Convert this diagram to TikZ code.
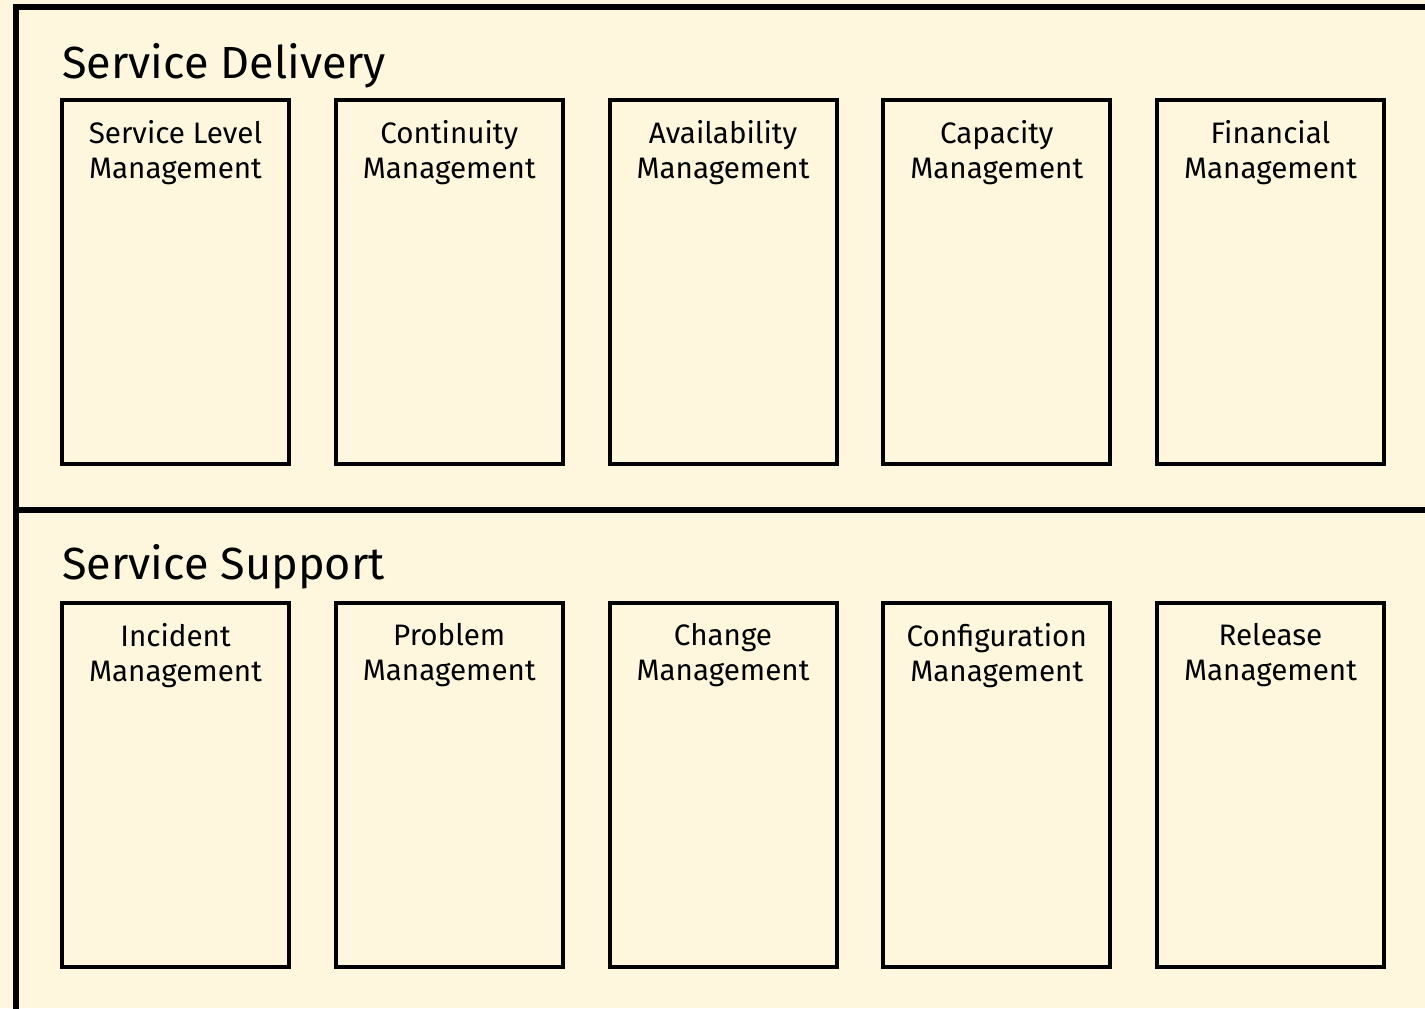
\documentclass[tikz,border=0pt]{standalone}
\usepackage{fontspec}
\setmainfont{Fira Sans}
\usetikzlibrary{positioning}
\definecolor{cream}{RGB}{254,247,222}

\begin{document}
\begin{tikzpicture}[x=0.5pt,y=-0.5pt,
    arealine/.style={line width=3pt},
    areatitle/.style={font=\fontsize{22.5}{26}\selectfont,anchor=base west,inner sep=0pt},
    procbox/.style={draw,line width=2pt,minimum width=113.5pt,minimum height=182pt,
        anchor=north,inner sep=0pt},
    proctext/.style={font=\fontsize{14.8}{17.5}\selectfont,align=center,anchor=north,inner sep=0pt}]
    \fill[cream] (0,0) rectangle (1425,1008);
    \useasboundingbox (0,0) rectangle (1425,1008);
    \clip (0,0) rectangle (1425,1008);
    % the two areas
    \coordinate (topright) at (1440,7);
    \coordinate (topleft) at (16,7);
    \coordinate (botleft) at (16,1020);
    \coordinate (midleft) at (16,510);
    \coordinate (midright) at (1440,510);
    \draw[arealine] (topright) -- (topleft) -- (botleft);
    \draw[arealine] (midleft) -- (midright);
    \node[areatitle] (deltitle) at (62,78) {Service Delivery};
    \node[areatitle] (suptitle) at (62,579) {Service Support};
    % service delivery processes
    \foreach \nm/\txt [count=\i from 0] in {slm/{Service Level\\Management},
            ctm/{Continuity\\Management}, avm/{Availability\\Management},
            cpm/{Capacity\\Management}, fim/{Financial\\Management}}{
        \node[procbox] (\nm) at (175.5+273.75*\i,98) {};
        \node[proctext,below=11pt of \nm.north] (\nm txt) {\txt};
    }
    % service support processes
    \foreach \nm/\txt [count=\i from 0] in {inm/{Incident\\Management},
            prm/{Problem\\Management}, chm/{Change\\Management},
            cfm/{Configuration\\Management}, rlm/{Release\\Management}}{
        \node[procbox] (\nm) at (175.5+273.75*\i,601) {};
        \node[proctext,below=11pt of \nm.north] (\nm txt) {\txt};
    }
\end{tikzpicture}
\end{document}
